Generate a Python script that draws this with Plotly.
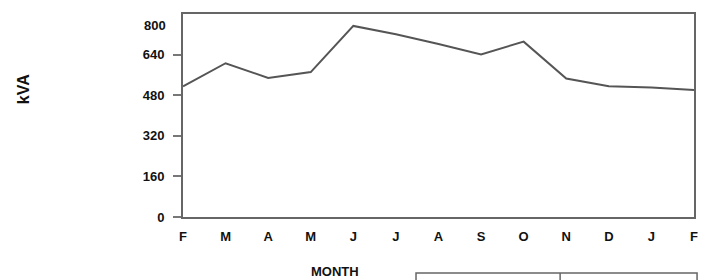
import plotly.graph_objects as go

months = ["F", "M", "A", "M", "J", "J", "A", "S", "O", "N", "D", "J", "F"]
kva = [515, 606, 548, 571, 753, 720, 682, 641, 691, 546, 515, 510, 500]
y_ticks = [0, 160, 320, 480, 640, 800]

x_idx = list(range(len(months)))

fig = go.Figure()
fig.add_trace(go.Scatter(
    x=x_idx, y=kva, mode="lines",
    line=dict(color="#555555", width=2),
    hoverinfo="skip", showlegend=False,
))

font = dict(family="Liberation Sans, Arial, sans-serif", size=13, color="#111111")

# page has an 8px body margin, so the figure is 702x272 placed at (8, 8)
fig.update_layout(
    width=702, height=272,
    margin=dict(l=175, r=16, t=6, b=63, autoexpand=False),
    paper_bgcolor="white", plot_bgcolor="white",
    font=font,
    showlegend=False,
)
fig.update_xaxes(
    range=[0, 12], tickmode="array", tickvals=x_idx, ticktext=months,
    showgrid=False, zeroline=False, automargin=False,
    showline=True, linecolor="#666666", linewidth=2, mirror=True,
    ticks="", tickfont=dict(size=13, weight="bold"),
    ticklabelstandoff=6,
)
# top tick (800) sits on the frame; its label is drawn slightly lower, as in the scan
fig.update_yaxes(
    range=[0, y_ticks[-1]], tickmode="array", tickvals=y_ticks[:-1],
    showgrid=False, zeroline=False, automargin=False,
    showline=True, linecolor="#666666", linewidth=2, mirror=True,
    ticks="outside", ticklen=8, tickcolor="#777777", tickwidth=1.5,
    tickfont=dict(size=13, weight="bold"),
    ticklabelstandoff=6,
)
fig.add_annotation(
    text="<b>%d</b>" % y_ticks[-1], showarrow=False,
    xref="paper", yref="paper", x=-0.03, y=0.945,
    xanchor="right", yanchor="middle", font=dict(size=13),
)

fig.add_annotation(
    text="<b>kVA</b>", textangle=-90, showarrow=False,
    xref="paper", yref="paper", x=-0.313, y=0.63,
    xanchor="center", yanchor="middle", font=dict(size=16),
)
fig.add_annotation(
    text="<b>MONTH</b>", showarrow=False,
    xref="paper", yref="paper", x=0.297, y=-0.27,
    xanchor="center", yanchor="middle", font=dict(size=13),
)

# box at the bottom (partly cut off)
fig.add_shape(type="rect", xref="paper", yref="paper",
              x0=0.456, x1=1.006, y0=-0.5, y1=-0.276,
              line=dict(color="#666666", width=1.5))
fig.add_shape(type="line", xref="paper", yref="paper",
              x0=0.738, x1=0.738, y0=-0.5, y1=-0.276,
              line=dict(color="#666666", width=1.5))

fig.write_html("out.html")
